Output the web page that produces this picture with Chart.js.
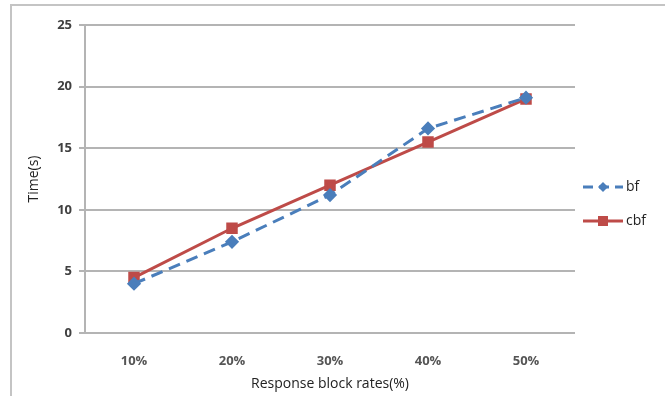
<!DOCTYPE html>
<html>
<head>
<meta charset="utf-8">
<script src="https://cdn.jsdelivr.net/npm/chart.js@4/dist/chart.umd.min.js"></script>
<style>
  html, body { margin: 0; padding: 0; background: #fff; }
  #wrap { width: 665px; height: 396px; position: relative; }
</style>
</head>
<body>
<div id="wrap"><canvas id="c" width="665" height="396"></canvas></div>
<script>
// Response time by block rate
const categories = ['10%', '20%', '30%', '40%', '50%'];
const bfTimes = [4.0, 7.4, 11.2, 16.6, 19.1];
const cbfTimes = [4.5, 8.5, 12.0, 15.5, 19.0];
const yTicks = [0, 5, 10, 15, 20, 25];

const BLUE = '#4a7ebb';
const RED = '#be4b48';
const GRID = '#b4b4b4';
const FONT = "'Open Sans', 'DejaVu Sans', sans-serif";

// Light frame around the whole figure
const framePlugin = {
  id: 'frame',
  beforeDraw(chart) {
    const ctx = chart.ctx;
    ctx.save();
    ctx.strokeStyle = '#c4c4c4';
    ctx.lineWidth = 2;
    ctx.strokeRect(11, 5, 700, 420);
    ctx.restore();
  }
};

// Legend drawn as line + marker samples on the right
const sideLegend = {
  id: 'sideLegend',
  afterDraw(chart) {
    const ctx = chart.ctx;
    const items = chart.data.datasets;
    const x0 = 583, x1 = 623;
    const ys = [187, 221];
    ctx.save();
    items.forEach((ds, i) => {
      const y = ys[i];
      ctx.strokeStyle = ds.borderColor;
      ctx.lineWidth = 3;
      ctx.setLineDash(ds.borderDash ? [10, 6] : []);
      ctx.beginPath();
      ctx.moveTo(x0, y);
      ctx.lineTo(x1, y);
      ctx.stroke();
      ctx.setLineDash([]);
      ctx.fillStyle = ds.pointBackgroundColor;
      const cx = (x0 + x1) / 2;
      if (ds.pointStyle === 'rectRot') {
        ctx.beginPath();
        ctx.moveTo(cx, y - 5);
        ctx.lineTo(cx + 5, y);
        ctx.lineTo(cx, y + 5);
        ctx.lineTo(cx - 5, y);
        ctx.closePath();
        ctx.fill();
      } else {
        ctx.fillRect(cx - 5, y - 5, 10, 10);
      }
      ctx.fillStyle = '#222';
      ctx.font = '14px ' + FONT;
      ctx.textBaseline = 'middle';
      ctx.textAlign = 'left';
      ctx.fillText(ds.label, x1 + 3, y);
    });
    ctx.restore();
  }
};

new Chart(document.getElementById('c'), {
  type: 'line',
  data: {
    labels: categories,
    datasets: [
      {
        label: 'bf',
        data: bfTimes,
        borderColor: BLUE,
        backgroundColor: BLUE,
        pointBackgroundColor: BLUE,
        pointBorderColor: BLUE,
        borderWidth: 3,
        borderDash: [12, 7],
        pointStyle: 'rectRot',
        pointRadius: 5,
        tension: 0
      },
      {
        label: 'cbf',
        data: cbfTimes,
        borderColor: RED,
        backgroundColor: RED,
        pointBackgroundColor: RED,
        pointBorderColor: RED,
        borderWidth: 3,
        pointStyle: 'rect',
        pointRadius: 6,
        tension: 0
      }
    ]
  },
  options: {
    responsive: false,
    animation: false,
    devicePixelRatio: 1,
    layout: { padding: { left: 20, right: 90, top: 25, bottom: 0 } },
    plugins: {
      legend: { display: false },
      tooltip: { enabled: false }
    },
    scales: {
      x: {
        offset: true,
        grid: { display: false },
        border: { display: false },
        ticks: {
          color: '#555555',
          font: { family: FONT, size: 13, weight: 'bold' },
          padding: 12
        },
        title: {
          display: true,
          text: 'Response block rates(%)',
          color: '#222',
          font: { family: FONT, size: 14 },
          padding: { top: 0, bottom: 4 }
        },
        afterFit(scale) { scale.height = 63; }
      },
      y: {
        min: 0,
        max: 25,
        afterBuildTicks(scale) { scale.ticks = yTicks.map(v => ({ value: v })); },
        grid: {
          color: GRID,
          lineWidth: 2,
          drawTicks: true,
          tickLength: 6
        },
        border: { display: true, color: GRID, width: 2 },
        ticks: {
          color: '#404040',
          font: { family: FONT, size: 13, weight: 'bold' },
          padding: 7
        },
        title: {
          display: true,
          text: 'Time(s)',
          color: '#222',
          font: { family: FONT, size: 14 },
          padding: { top: 6, bottom: 0 }
        },
        afterFit(scale) { scale.width = 65; }
      }
    }
  },
  plugins: [framePlugin, sideLegend]
});
</script>
</body>
</html>
